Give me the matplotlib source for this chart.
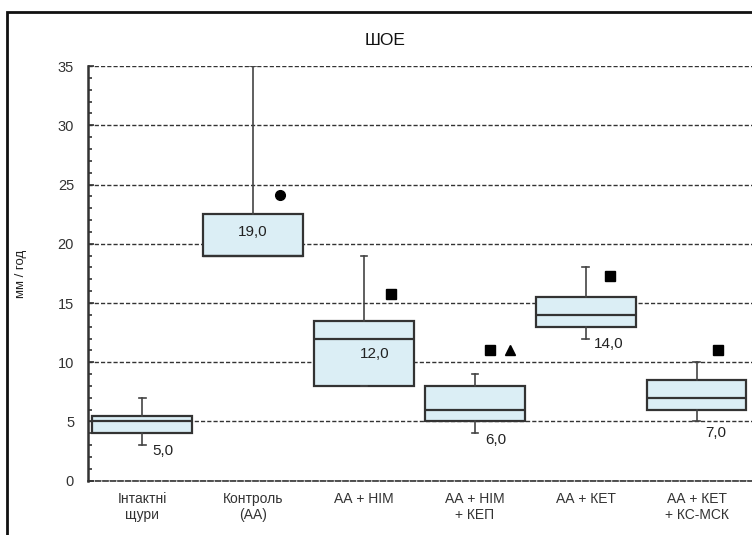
import matplotlib.pyplot as plt
from matplotlib.patches import Rectangle
from matplotlib.ticker import MultipleLocator

plt.rcParams['font.family'] = ['Liberation Sans', 'DejaVu Sans']

groups = ['Інтактні\nщури', 'Контроль\n(АА)', 'АА + НІМ', 'АА + НІМ\n+ КЕП',
          'АА + КЕТ', 'АА + КЕТ\n+ КС-МСК']
q1 = [4.0, 19.0, 8.0, 5.0, 13.0, 6.0]
medians = [5.0, 19.0, 12.0, 6.0, 14.0, 7.0]
q3 = [5.5, 22.5, 13.5, 8.0, 15.5, 8.5]
whislo = [3.0, 19.0, 8.0, 4.0, 12.0, 5.0]
whishi = [7.0, 35.0, 19.0, 9.0, 18.0, 10.0]
labels = ['5,0', '19,0', '12,0', '6,0', '14,0', '7,0']

# significance marks: (group index, x offset, y, marker)
marks = [(1, 0.24, 24.1, 'o'), (2, 0.24, 15.8, 's'), (3, 0.14, 11.05, 's'),
         (3, 0.32, 11.05, '^'), (4, 0.22, 17.25, 's'), (5, 0.19, 11.05, 's')]

# label placement: (x offset, y, ha)
label_pos = [(0.09, 2.5, 'left'), (0.0, 21.0, 'center'), (0.1, 10.7, 'center'),
             (0.09, 3.45, 'left'), (0.07, 11.55, 'left'), (0.08, 4.0, 'left')]

fig = plt.figure(figsize=(7.52, 5.35), dpi=100)
ax = fig.add_axes([0.117, 0.1015, 0.883, 0.775])

stats = []
for i in range(len(groups)):
    stats.append({'med': medians[i], 'q1': q1[i], 'q3': q3[i],
                  'whislo': whislo[i], 'whishi': whishi[i], 'fliers': []})

ax.bxp(stats, positions=range(len(groups)), widths=0.9, patch_artist=True,
       showfliers=False, capwidths=0.06,
       boxprops=dict(facecolor='#dbeef5', edgecolor='#333333', linewidth=1.6),
       medianprops=dict(color='#333333', linewidth=1.6),
       whiskerprops=dict(color='#444444', linewidth=1.2),
       capprops=dict(color='#444444', linewidth=1.2), zorder=3)

for g, dx, y, m in marks:
    ax.plot(g + dx, y, marker=m, color='black', markersize=7, zorder=4)

for i, (dx, y, ha) in enumerate(label_pos):
    ax.text(i + dx, y, labels[i], ha=ha, va='center', fontsize=11, color='#222222', zorder=5)

ax.set_xlim(-0.49, 5.5)
ax.set_ylim(0, 35)
ax.yaxis.set_major_locator(MultipleLocator(5))
ax.yaxis.set_minor_locator(MultipleLocator(1))
ax.yaxis.grid(True, which='major', linestyle=(0, (3, 1.5)), color='#333333', linewidth=1.0)
ax.set_axisbelow(True)
ax.tick_params(axis='y', which='major', direction='in', length=4, width=1.2,
               labelsize=10.5, colors='#333333', pad=10)
ax.tick_params(axis='y', which='minor', direction='in', length=3, width=1.2, colors='#333333')
ax.tick_params(axis='x', length=0, labelsize=10, colors='#333333', pad=8)
ax.set_xticks(range(len(groups)))
ax.set_xticklabels(groups)
for s in ['top', 'right']:
    ax.spines[s].set_visible(False)
ax.spines['bottom'].set_linestyle((0, (3, 1.5)))
ax.spines['bottom'].set_linewidth(1.2)
ax.spines['bottom'].set_color('#333333')
ax.spines['left'].set_linewidth(1.8)
ax.spines['left'].set_color('#333333')

ax.set_ylabel('мм / год', fontsize=9.5, color='#222222', labelpad=22)
fig.text(0.512, 0.925, 'ШОЕ', ha='center', va='center', fontsize=12.5, color='#111111')

fig.patches.append(Rectangle((0.009, -0.1), 1.2, 1.077, transform=fig.transFigure,
                             fill=False, edgecolor='#111111', linewidth=2))

fig.savefig('out.png', dpi=100)
